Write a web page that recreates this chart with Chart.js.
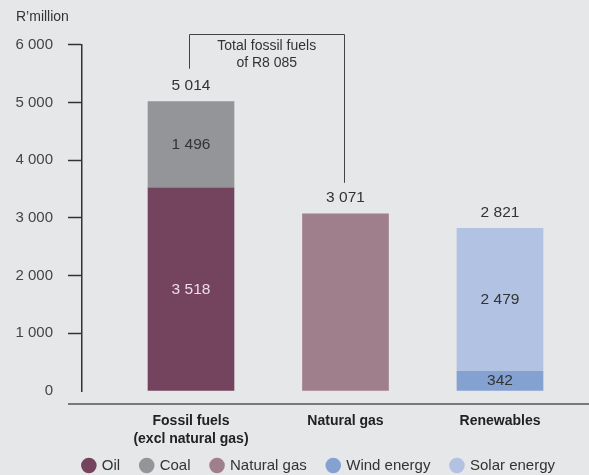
<!DOCTYPE html>
<html>
<head>
<meta charset="utf-8">
<script src="https://cdn.jsdelivr.net/npm/chart.js@4.4.1/dist/chart.umd.min.js"></script>
<style>
  html, body { margin: 0; padding: 0; background: #e6e7e8; }
  canvas { display: block; }
</style>
</head>
<body>
<canvas id="energyChart" width="589" height="475"></canvas>
<script>
// Spend by energy source, R'million
const categories = [["Fossil fuels", "(excl natural gas)"], "Natural gas", "Renewables"];
const seriesNames = ["Oil", "Coal", "Natural gas", "Wind energy", "Solar energy"];
const oilValues = [3518, null, null];
const coalValues = [1496, null, null];
const gasValues = [null, 3071, null];
const windValues = [null, null, 342];
const solarValues = [null, null, 2479];
const yMax = 6000;
const yStep = 1000;

const seriesValues = [oilValues, coalValues, gasValues, windValues, solarValues];
const seriesColors = ["#74445f", "#939598", "#a07f8d", "#84a1d1", "#b1c2e3"];
const labelColors = ["#ecdde9", "#333333", "#333333", "#333333", "#333333"];

const fmt = (n) => String(n).replace(/\B(?=(\d{3})+(?!\d))/g, " ");

const totals = categories.map((c, i) =>
  seriesValues.reduce((sum, arr) => sum + (arr[i] || 0), 0)
);
const segmentCounts = categories.map((c, i) =>
  seriesValues.filter((arr) => arr[i] != null).length
);
const fossilTotal = totals[0] + totals[1];

Chart.defaults.font.family = "'Liberation Sans', Arial, sans-serif";
Chart.defaults.color = "#333";

// let the legend sit a little higher, overlapping the tall category labels box
const legendShift = {
  id: "legendShift",
  afterLayout(chart) {
    const lg = chart.legend;
    lg.top -= 12;
    lg.height += 12;
  }
};

// value labels inside segments and totals above, plus the bracket and baseline
const annotations = {
  id: "annotations",
  afterDatasetsDraw(chart) {
    const ctx = chart.ctx;
    const xs = chart.scales.x;
    const ys = chart.scales.y;
    const area = chart.chartArea;
    ctx.save();
    ctx.font = "15.5px 'Liberation Sans', Arial, sans-serif";
    ctx.textAlign = "center";
    ctx.textBaseline = "middle";

    chart.data.datasets.forEach((ds, i) => {
      chart.getDatasetMeta(i).data.forEach((bar, j) => {
        const cat = ds.data[j].x;
        if (segmentCounts[cat] < 2) return;
        ctx.fillStyle = labelColors[i];
        ctx.fillText(fmt(ds.data[j].y), bar.x, (bar.y + bar.base) / 2);
      });
    });

    const totalY = totals.map((t) => ys.getPixelForValue(t) - 16);
    ctx.fillStyle = "#333";
    totals.forEach((t, i) => {
      ctx.fillText(fmt(t), xs.getPixelForValue(i), totalY[i]);
    });

    // bracket over fossil fuels and natural gas
    const x0 = xs.getPixelForValue(0) - 2;
    const x1 = xs.getPixelForValue(1) - 1;
    const yTop = area.top - 11;
    ctx.strokeStyle = "#444";
    ctx.lineWidth = 1;
    ctx.beginPath();
    ctx.moveTo(Math.round(x0) + 0.5, totalY[0] - 17);
    ctx.lineTo(Math.round(x0) + 0.5, Math.round(yTop) + 0.5);
    ctx.lineTo(Math.round(x1) + 0.5, Math.round(yTop) + 0.5);
    ctx.lineTo(Math.round(x1) + 0.5, totalY[1] - 15);
    ctx.stroke();
    ctx.font = "14px 'Liberation Sans', Arial, sans-serif";
    ctx.fillStyle = "#333";
    ctx.fillText("Total fossil fuels", (x0 + x1) / 2, yTop + 12);
    ctx.fillText("of R" + fmt(fossilTotal), (x0 + x1) / 2, yTop + 29);

    // category baseline
    ctx.strokeStyle = "#555";
    ctx.lineWidth = 1.5;
    ctx.beginPath();
    ctx.moveTo(area.left - 14, area.bottom + 13);
    ctx.lineTo(chart.width, area.bottom + 13);
    ctx.stroke();
    ctx.restore();
  }
};

const ctx = document.getElementById("energyChart").getContext("2d");
new Chart(ctx, {
  type: "bar",
  data: {
    datasets: seriesNames.map((name, i) => ({
      label: name,
      data: seriesValues[i]
        .map((v, j) => (v == null ? null : { x: j, y: v }))
        .filter(Boolean),
      backgroundColor: seriesColors[i],
      borderWidth: 0,
      barThickness: 86,
    })),
  },
  options: {
    responsive: false,
    animation: false,
    devicePixelRatio: 1,
    layout: { padding: { left: 16, right: 13, top: 0, bottom: 0 } },
    scales: {
      x: {
        type: "linear",
        stacked: true,
        offset: false,
        min: -0.7055,
        max: 2.492,
        afterBuildTicks: (scale) => {
          scale.ticks = categories.map((c, i) => ({ value: i }));
        },
        afterFit: (scale) => {
          scale.height = 58;
        },
        ticks: {
          autoSkip: false,
          maxRotation: 0,
          padding: 21,
          color: "#222",
          font: { size: 14, weight: "bold", lineHeight: 1.3 },
          callback: (v) => categories[v],
        },
        grid: { display: false, drawTicks: false, offset: false },
        border: { display: false },
      },
      y: {
        stacked: true,
        min: 0,
        max: yMax,
        afterFit: (scale) => {
          scale.width = 66;
        },
        ticks: {
          stepSize: yStep,
          padding: 15,
          color: "#444",
          font: { size: 15 },
          callback: (v) => fmt(v),
        },
        grid: {
          drawOnChartArea: false,
          drawTicks: true,
          tickLength: 14,
          tickWidth: 1.5,
          tickColor: (c) => (c.tick && c.tick.value === 0 ? "rgba(0,0,0,0)" : "#333"),
        },
        border: { display: true, color: "#333", width: 1.5 },
      },
    },
    plugins: {
      title: {
        display: true,
        text: "R\u2019million",
        align: "start",
        color: "#333",
        font: { size: 14, weight: "normal" },
        padding: { top: 9, bottom: 19 },
      },
      legend: {
        position: "bottom",
        align: "end",
        maxHeight: 26,
        labels: {
          usePointStyle: true,
          pointStyle: "circle",
          boxWidth: 11,
          boxHeight: 11,
          padding: 21,
          color: "#333",
          font: { size: 15 },
        },
      },
      tooltip: { enabled: false },
    },
  },
  plugins: [annotations, legendShift],
});
</script>
</body>
</html>
